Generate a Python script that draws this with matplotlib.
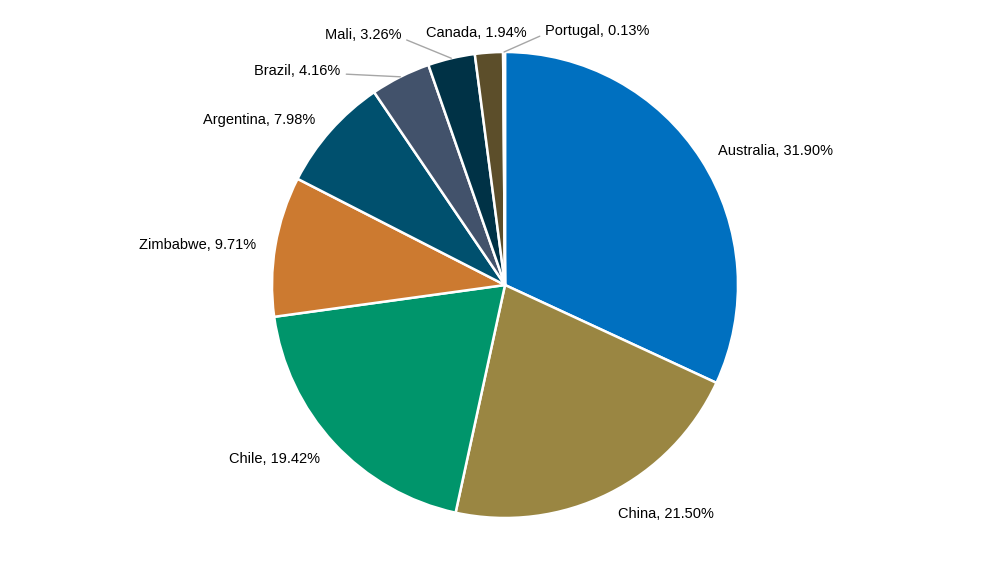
import numpy as np
import matplotlib.pyplot as plt

plt.rcParams['font.family'] = ['Liberation Sans', 'DejaVu Sans']

# -------- DATA --------
countries = ["Australia", "China", "Chile", "Zimbabwe", "Argentina",
             "Brazil", "Mali", "Canada", "Portugal"]
shares = [31.90, 21.50, 19.42, 9.71, 7.98, 4.16, 3.26, 1.94, 0.13]
colors = ["#0070C0", "#9A8642", "#00956B", "#CC7A30", "#00506E",
          "#42526B", "#003246", "#5C4E2A", "#D9D9D9"]

# labels moved away from the slice
# (text anchor in pie-radius units, horizontal alignment, leader line?)
moved_labels = {
    "Brazil": ((-0.705, 0.918), "right", True),
    "Mali": ((-0.445, 1.073), "right", True),
    "Canada": ((0.094, 1.082), "right", False),
    "Portugal": ((0.172, 1.090), "left", True),
}

# -------- PLOT --------
fig = plt.figure(figsize=(10, 5.69), dpi=100)
ax = fig.add_axes([0, 0, 1, 1])

wedges, _ = ax.pie(shares, colors=colors, startangle=90, counterclock=False,
                   radius=1.0, wedgeprops=dict(edgecolor='white', linewidth=1.8))

# pie resets the limits, so set them afterwards
cx, cy, r_px = 505, 285, 233
ax.set_xlim(-cx / r_px, (1000 - cx) / r_px)
ax.set_ylim(-(569 - cy) / r_px, cy / r_px)
ax.set_aspect('equal')
ax.axis('off')

for w, name, val in zip(wedges, countries, shares):
    mid = np.deg2rad((w.theta1 + w.theta2) / 2)
    label = f"{name}, {val:.2f}%"
    edge = (np.cos(mid), np.sin(mid))
    if name in moved_labels:
        (tx, ty), ha, leader = moved_labels[name]
        if leader:
            relx = 1.0 if ha == "right" else 0.0
            ax.annotate(label, xy=edge, xytext=(tx, ty), ha=ha, va='center',
                        fontsize=10.5, color='black',
                        arrowprops=dict(arrowstyle='-', color='#A6A6A6', lw=1,
                                        shrinkA=2, shrinkB=0, relpos=(relx, 0.3)))
        else:
            ax.text(tx, ty, label, ha=ha, va='center', fontsize=10.5, color='black')
    else:
        x, y = 1.085 * edge[0], 1.085 * edge[1] - 0.01
        ha = 'left' if edge[0] > 0 else 'right'
        ax.text(x, y, label, ha=ha, va='center', fontsize=10.5, color='black')

plt.savefig("out.png", dpi=100)
